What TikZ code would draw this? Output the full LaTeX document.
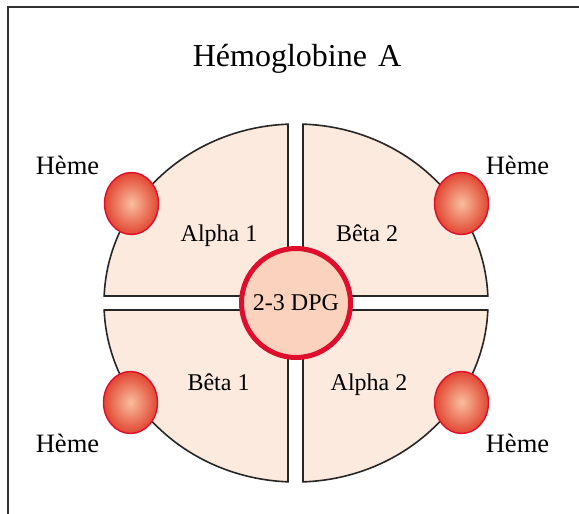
\documentclass[tikz,border=0pt]{standalone}
\usepackage{fontspec}
\setmainfont{Liberation Serif}
\usetikzlibrary{shapes.geometric}
\definecolor{quadfill}{RGB}{253,234,222}
\definecolor{dpgfill}{RGB}{250,210,190}
\definecolor{hred}{RGB}{222,14,44}
\definecolor{hinner}{RGB}{249,190,158}
\definecolor{houter}{RGB}{226,70,50}
\definecolor{framec}{RGB}{50,50,50}
\tikzset{
  quad/.style={fill=quadfill, draw=black!85, line width=1.6pt, line join=miter},
  heme/.style={ellipse, draw=hred, line width=1.4pt, inner color=hinner, outer color=houter, minimum width=54pt, minimum height=62pt, inner sep=0pt},
  dpg/.style={circle, draw=hred, fill=dpgfill, line width=5pt, minimum size=109pt, inner sep=0pt, font=\fontsize{24}{28}\selectfont},
  sub/.style={anchor=base, font=\fontsize{24}{28}\selectfont, inner sep=0pt},
  hlab/.style={anchor=base, font=\fontsize{26.5}{30}\selectfont, inner sep=0pt},
  ttl/.style={anchor=base, font=\fontsize{32}{36}\selectfont, inner sep=0pt},
  framel/.style={draw=framec, line width=2pt}
}
\begin{document}
\begin{tikzpicture}[x=1pt,y=1pt]
\useasboundingbox (0,0) rectangle (579,-514);
\draw[framel] (579,-7) -- (8,-7) -- (8,-514);
% quadrants
\path[quad] (288,-296) -- (288,-124.16) arc[start angle=92.39, end angle=177.76, x radius=192pt, y radius=179pt] -- cycle;
\path[quad] (303,-296) -- (303,-124.12) arc[start angle=87.91, end angle=2.24, x radius=192pt, y radius=179pt] -- cycle;
\path[quad] (288,-310) -- (288,-481.84) arc[start angle=267.61, end angle=182.24, x radius=192pt, y radius=179pt] -- cycle;
\path[quad] (303,-310) -- (303,-481.88) arc[start angle=272.09, end angle=357.76, x radius=192pt, y radius=179pt] -- cycle;
% centre
\node[dpg] (dpg) at (296,-303) {2-3 DPG};
% hemes
\node[heme] (h1) at (131.5,-203.5) {};
\node[heme] (h2) at (461.5,-203.5) {};
\node[heme] (h3) at (130.5,-402.5) {};
\node[heme] (h4) at (461.5,-402.5) {};
% labels
\node[ttl] (title) at (297,-66) {Hémoglobine\hspace{11pt}A};
\node[hlab] (l1) at (67.5,-174) {Hème};
\node[hlab] (l2) at (517.5,-174) {Hème};
\node[hlab] (l3) at (67.5,-452) {Hème};
\node[hlab] (l4) at (517.5,-452) {Hème};
\node[sub] (a1) at (219,-241) {Alpha 1};
\node[sub] (b2) at (367,-241) {Bêta 2};
\node[sub] (b1) at (218.5,-390) {Bêta 1};
\node[sub] (a2) at (369,-390) {Alpha 2};
\end{tikzpicture}
\end{document}
